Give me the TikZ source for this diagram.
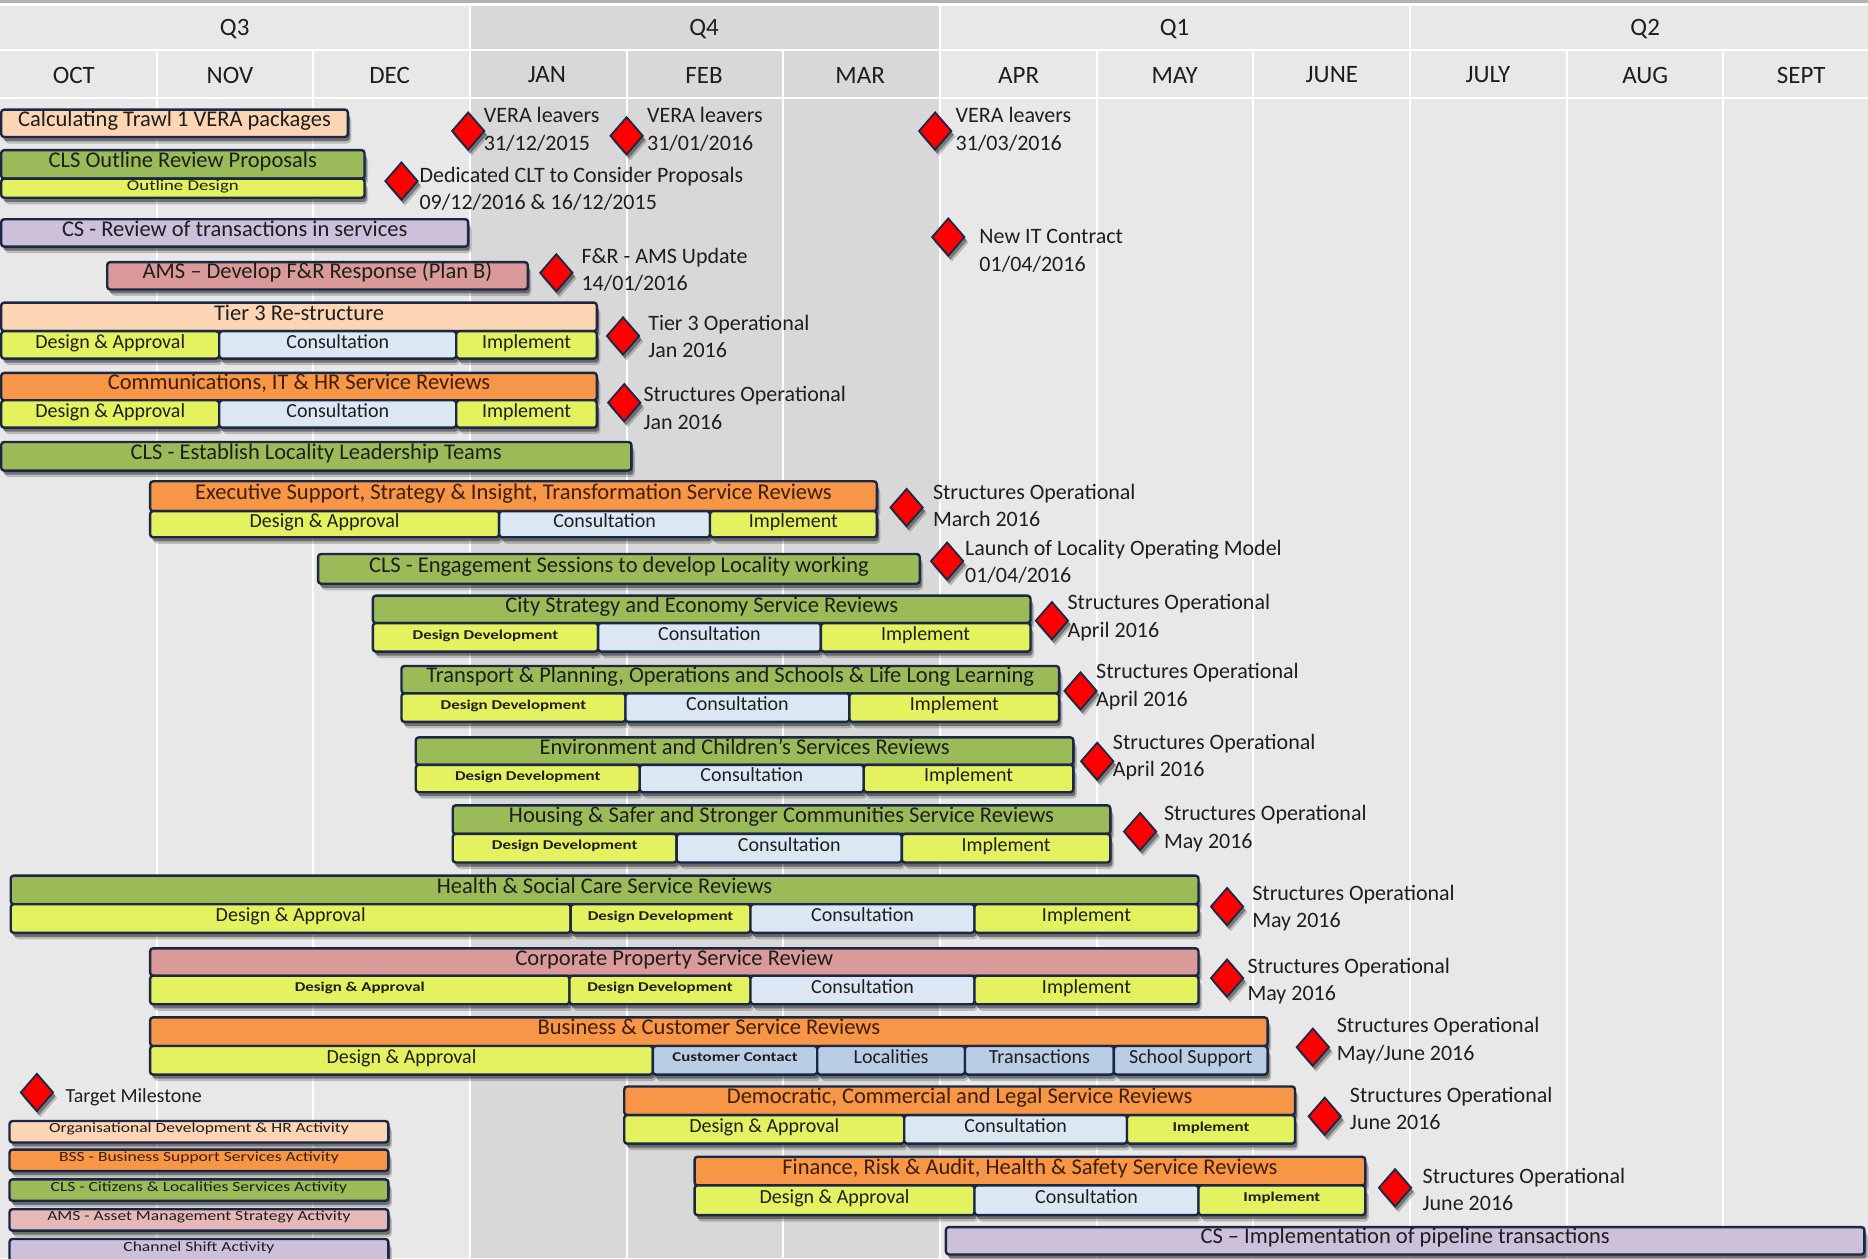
\documentclass[tikz,border=0pt]{standalone}
\usepackage{fontspec}
\setmainfont{Carlito}
\usepackage{graphicx}
\usetikzlibrary{shapes.geometric}
\definecolor{cnavy}{HTML}{1A2846}
\definecolor{cbg}{HTML}{E8E8E8}
\definecolor{cq4}{HTML}{D8D8D8}
\definecolor{cpeach}{HTML}{FCD5B4}
\definecolor{corange}{HTML}{F79646}
\definecolor{cgreen}{HTML}{9BBB59}
\definecolor{cpink}{HTML}{DA9A99}
\definecolor{cpinkl}{HTML}{E6B9B8}
\definecolor{clav}{HTML}{CCC0DA}
\definecolor{cyel}{HTML}{E4F260}
\definecolor{ccons}{HTML}{DBE8F4}
\definecolor{cblue}{HTML}{B9CDE5}
\definecolor{ctxt}{HTML}{1E1E1E}
\definecolor{cbrown}{HTML}{3E1E08}
\definecolor{cred}{HTML}{FF0000}
\newcommand{\ftitle}{\fontsize{22.5}{25}\selectfont}
\newcommand{\fsub}{\fontsize{20}{24}\selectfont}
\newcommand{\fmile}{\fontsize{22}{27.4}\selectfont}
\newcommand{\fhead}{\fontsize{25}{30}\selectfont}
\newcommand{\smtxt}[1]{\raisebox{1.5pt}{\fontsize{13.5}{16}\selectfont\bfseries\scalebox{1.25}[1]{#1}}}
\newcommand{\legtxt}[1]{\raisebox{2.3pt}{\fontsize{14}{16}\selectfont\scalebox{1.25}[1]{#1}}}
% name, x1, y1, x2, y2, style, text
\newcommand{\gb}[7]{%
  \pgfmathsetmacro{\gbw}{(#4-#2)*1.19133}%
  \pgfmathsetmacro{\gbh}{(#5-#3)*1.19133}%
  \fill[black,opacity=0.2,rounded corners=4pt,shift={(3.5pt,-6.5pt)}] (#2,#3) rectangle (#4,#5);
  \fill[black,opacity=0.4,rounded corners=3pt,shift={(2pt,-4pt)}] (#2,#3) rectangle (#4,#5);
  \node[bx,#6,minimum width=\gbw pt,minimum height=\gbh pt] (#1) at ({(#2+#4)/2},{(#3+#5)/2}) {#7};}
\newcommand{\ms}[6]{%
  \fill[black,opacity=0.2,shift={(3.5pt,-5.5pt)}] (#2-14,#3) -- (#2,#3-16) -- (#2+14,#3) -- (#2,#3+16) -- cycle;
  \fill[black,opacity=0.35,shift={(2pt,-3.5pt)}] (#2-14,#3) -- (#2,#3-16) -- (#2+14,#3) -- (#2,#3+16) -- cycle;
  \node[mdia] (#1) at (#2,#3) {};
  \node[mlab] (#1t) at (#4,#5) {#6};}
\begin{document}
\begin{tikzpicture}[x=1.19133pt,y=-1.19133pt,
  bx/.style={draw=cnavy,line width=2.4pt,rounded corners=3pt,inner sep=0pt,text=ctxt,
    text height=0.64em,text depth=-0.1em},
  bpeach/.style={fill=cpeach,font=\ftitle},
  borange/.style={fill=corange,font=\ftitle,text=cbrown},
  bgreen/.style={fill=cgreen,font=\ftitle},
  bpink/.style={fill=cpink,font=\ftitle},
  blav/.style={fill=clav,font=\ftitle},
  byel/.style={fill=cyel,font=\fsub},
  bcons/.style={fill=ccons,font=\fsub},
  bblue/.style={fill=cblue,font=\fsub},
  mdia/.style={diamond,draw=cnavy,fill=cred,line width=1.8pt,minimum width=33pt,minimum height=38pt,inner sep=0pt},
  mlab/.style={anchor=west,inner sep=0pt,align=left,font=\fmile,text=ctxt},
  hd/.style={font=\fhead,text=ctxt,inner sep=0pt},
  sep/.style={white,line width=2pt}]
\clip (0,0) rectangle (1568,1056);
% background
\fill[cbg] (0,0) rectangle (1568,1056);
\fill[cq4] (394.5,5) rectangle (789,1056);
\fill[white] (0,0) rectangle (1568,5);
\fill[black!30] (0,0) rectangle (1568,2.2);
\draw[sep] (0,42) -- (1568,42);
\draw[sep] (0,82) -- (1568,82);
\foreach \x in {394.5,789,1183.5} \draw[sep] (\x,5) -- (\x,1056);
\foreach \x in {131.5,263,526,657.5,920.5,1052,1315,1446.5} \draw[sep] (\x,42) -- (\x,1056);
% header
\node[hd] (q3) at (197,24) {Q3};
\node[hd] (q4) at (591,24) {Q4};
\node[hd] (q1) at (986,24) {Q1};
\node[hd] (q2) at (1381,24) {Q2};
\node[hd] (oct) at (62,63) {OCT};
\node[hd] (nov) at (193,63) {NOV};
\node[hd] (dec) at (327,63) {DEC};
\node[hd] (jan) at (459,63) {JAN};
\node[hd] (feb) at (591,63) {FEB};
\node[hd] (mar) at (722,63) {MAR};
\node[hd] (apr) at (855,63) {APR};
\node[hd] (may) at (986,63) {MAY};
\node[hd] (jun) at (1118,63) {JUNE};
\node[hd] (jul) at (1249,63) {JULY};
\node[hd] (aug) at (1381,63) {AUG};
\node[hd] (sep) at (1512,63) {SEPT};
% bars
\gb{calc}{1}{92}{292}{115}{bpeach}{Calculating Trawl 1 VERA packages}
\gb{clsout}{1}{126}{306}{150}{bgreen}{CLS Outline  Review Proposals}
\gb{outd}{1}{150}{306}{166}{byel}{\raisebox{1.2pt}{\fontsize{15}{16}\selectfont\scalebox{1.25}[1]{Outline Design}}}
\gb{csrev}{1}{184}{393}{207}{blav}{CS - Review of transactions  in services}
\gb{ams}{90}{220}{443}{243}{bpink}{AMS -- Develop F\&R Response  (Plan B)}
\gb{tier}{1}{254}{501}{278}{bpeach}{Tier 3 Re-structure}
\gb{tierA}{1}{278}{184}{301}{byel}{Design \& Approval}
\gb{tierB}{184}{278}{383}{301}{bcons}{Consultation}
\gb{tierC}{383}{278}{501}{301}{byel}{Implement}
\gb{cit}{1}{313}{501}{336}{borange}{Communications, IT \& HR Service Reviews}
\gb{citA}{1}{336}{184}{359}{byel}{Design \& Approval}
\gb{citB}{184}{336}{383}{359}{bcons}{Consultation}
\gb{citC}{383}{336}{501}{359}{byel}{Implement}
\gb{llt}{1}{371}{530}{395}{bgreen}{CLS - Establish Locality Leadership  Teams}
\gb{exe}{126}{404}{736}{429}{borange}{Executive Support, Strategy \& Insight, Transformation  Service Reviews}
\gb{exeA}{126}{429}{419}{451}{byel}{Design \& Approval}
\gb{exeB}{419}{429}{596}{451}{bcons}{Consultation}
\gb{exeC}{596}{429}{736}{451}{byel}{Implement}
\gb{eng}{267}{465}{772}{490}{bgreen}{CLS - Engagement Sessions to develop Locality working}
\gb{city}{313}{500}{865}{523}{bgreen}{City Strategy and Economy Service Reviews}
\gb{cityA}{313}{523}{502}{547}{byel}{\smtxt{Design Development}}
\gb{cityB}{502}{523}{689}{547}{bcons}{Consultation}
\gb{cityC}{689}{523}{865}{547}{byel}{Implement}
\gb{trn}{337}{559}{889}{582}{bgreen}{Transport \& Planning, Operations  and Schools \& Life Long Learning}
\gb{trnA}{337}{582}{525}{606}{byel}{\smtxt{Design Development}}
\gb{trnB}{525}{582}{713}{606}{bcons}{Consultation}
\gb{trnC}{713}{582}{889}{606}{byel}{Implement}
\gb{env}{349}{619}{901}{642}{bgreen}{Environment and Children's  Services Reviews}
\gb{envA}{349}{642}{537}{665}{byel}{\smtxt{Design Development}}
\gb{envB}{537}{642}{725}{665}{bcons}{Consultation}
\gb{envC}{725}{642}{901}{665}{byel}{Implement}
\gb{hou}{380}{676}{932}{700}{bgreen}{Housing \& Safer and Stronger  Communities  Service Reviews}
\gb{houA}{380}{700}{568}{724}{byel}{\smtxt{Design Development}}
\gb{houB}{568}{700}{757}{724}{bcons}{Consultation}
\gb{houC}{757}{700}{932}{724}{byel}{Implement}
\gb{hsc}{9}{735}{1006}{759}{bgreen}{Health \& Social Care Service Reviews}
\gb{hscA}{9}{759}{479}{783}{byel}{Design \& Approval}
\gb{hscB}{479}{759}{630}{783}{byel}{\smtxt{Design Development}}
\gb{hscC}{630}{759}{818}{783}{bcons}{Consultation}
\gb{hscD}{818}{759}{1006}{783}{byel}{Implement}
\gb{cor}{126}{796}{1006}{819}{bpink}{Corporate  Property  Service Review}
\gb{corA}{126}{819}{478}{843}{byel}{\smtxt{Design \& Approval}}
\gb{corB}{478}{819}{630}{843}{byel}{\smtxt{Design Development}}
\gb{corC}{630}{819}{818}{843}{bcons}{Consultation}
\gb{corD}{818}{819}{1006}{843}{byel}{Implement}
\gb{bus}{126}{854}{1064}{878}{borange}{Business \& Customer  Service Reviews}
\gb{busA}{126}{878}{548}{902}{byel}{Design \& Approval}
\gb{busB}{548}{878}{686}{902}{bblue}{\smtxt{Customer Contact}}
\gb{busC}{686}{878}{810}{902}{bblue}{Localities}
\gb{busD}{810}{878}{935}{902}{bblue}{Transactions}
\gb{busE}{935}{878}{1064}{902}{bblue}{School Support}
\gb{dem}{524}{912}{1087}{936}{borange}{Democratic, Commercial  and Legal Service Reviews}
\gb{demA}{524}{936}{759}{960}{byel}{Design \& Approval}
\gb{demB}{759}{936}{946}{960}{bcons}{Consultation}
\gb{demC}{946}{936}{1087}{960}{byel}{\smtxt{Implement}}
\gb{fin}{583}{971}{1146}{995}{borange}{Finance, Risk \& Audit, Health \& Safety Service Reviews}
\gb{finA}{583}{995}{818}{1020}{byel}{Design  \& Approval}
\gb{finB}{818}{995}{1006}{1020}{bcons}{Consultation}
\gb{finC}{1006}{995}{1146}{1020}{byel}{\smtxt{Implement}}
\gb{csi}{794}{1030}{1565}{1053}{blav}{CS -- Implementation  of pipeline transactions}
% legend
\ms{lm}{31}{917}{55}{921}{{\fontsize{20}{24}\selectfont Target Milestone}}
\gb{l1}{8}{941}{326}{959}{bpeach}{\legtxt{Organisational  Development \& HR Activity}}
\gb{l2}{8}{965}{326}{983}{borange}{\legtxt{BSS - Business Support Services  Activity}}
\gb{l3}{8}{990}{326}{1008}{bgreen}{\legtxt{CLS - Citizens \& Localities  Services  Activity}}
\gb{l4}{8}{1015}{326}{1033}{bpink,fill=cpinkl}{\legtxt{AMS - Asset Management  Strategy  Activity}}
\gb{l5}{8}{1040}{326}{1059}{blav}{\legtxt{Channel Shift Activity}}
% milestones
\ms{m1}{393}{110}{406}{108.5}{VERA leavers\\31/12/2015}
\ms{m2}{526}{114}{543}{108.5}{VERA leavers\\31/01/2016}
\ms{m3}{785}{110}{802}{108.5}{VERA leavers\\31/03/2016}
\ms{m4}{337}{152}{352}{158.5}{Dedicated CLT to Consider Proposals\\09/12/2016 \& 16/12/2015}
\ms{m5}{796}{199}{822}{210.5}{New IT Contract\\01/04/2016}
\ms{m6}{467}{229}{488}{226.5}{F\&R  - AMS Update\\14/01/2016}
\ms{m7}{523}{282}{544}{282.5}{Tier 3 Operational\\Jan 2016}
\ms{m8}{524}{338}{540}{342.5}{Structures Operational\\Jan 2016}
\ms{m9}{761}{426}{783}{424.5}{Structures Operational\\March 2016}
\ms{m10}{795}{471}{810}{471.5}{Launch  of Locality Operating Model\\01/04/2016}
\ms{m11}{883}{521}{896}{518.5}{Structures Operational\\April 2016}
\ms{m12}{907}{580}{920}{576.5}{Structures Operational\\April 2016}
\ms{m13}{921}{639}{934}{635.5}{Structures Operational\\April 2016}
\ms{m14}{957}{698}{977}{695.5}{Structures Operational\\May 2016}
\ms{m15}{1030}{761}{1051}{762.5}{Structures Operational\\May 2016}
\ms{m16}{1030}{821}{1047}{823.5}{Structures Operational\\May 2016}
\ms{m17}{1102}{879}{1122}{873.5}{Structures Operational\\May/June 2016}
\ms{m18}{1112}{937}{1133}{930.5}{Structures Operational\\June 2016}
\ms{m19}{1171}{997}{1194}{998.5}{Structures Operational\\June 2016}
\end{tikzpicture}
\end{document}
